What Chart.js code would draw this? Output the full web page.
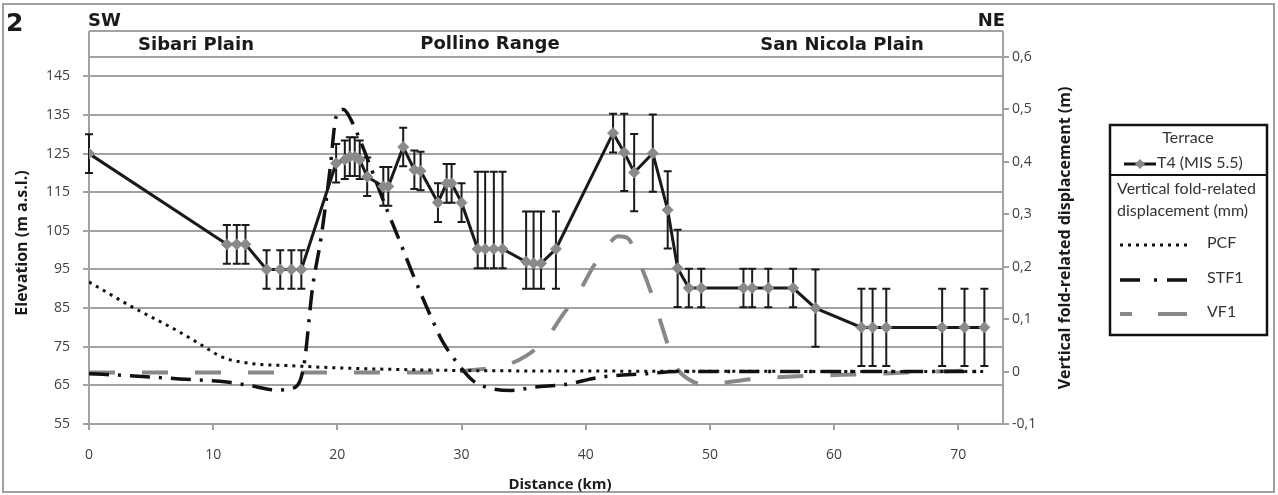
<!DOCTYPE html>
<html>
<head>
<meta charset="utf-8">
<script src="https://cdn.jsdelivr.net/npm/chart.js@4.4.1/dist/chart.umd.min.js"></script>
<style>
  html, body { margin: 0; padding: 0; background: #fff; }
  canvas { display: block; }
</style>
</head>
<body>
<canvas id="profile" width="1278" height="495"></canvas>
<script>
// Terrace T4 (MIS 5.5): distance (km), elevation (m a.s.l.), error bars
const t4Dist = [0, 11.1, 11.9, 12.6, 14.3, 15.4, 16.3, 17.1, 19.9, 20.6, 21.0, 21.4, 21.8, 22.4,
  23.7, 24.1, 25.3, 26.2, 26.7, 28.1, 28.8, 29.2, 30.0, 31.3, 31.9, 32.6, 33.3, 35.2, 35.8, 36.4,
  37.6, 42.2, 43.1, 43.9, 45.4, 46.6, 47.4, 48.3, 49.3, 52.7, 53.4, 54.7, 56.7, 58.5, 62.2, 63.1,
  64.2, 68.7, 70.5, 72.1];
const t4Elev = [125, 101.5, 101.5, 101.5, 95, 95, 95, 95, 122.5, 123.4, 124.2, 124.2, 123.4, 119,
  116.5, 116.5, 126.7, 120.8, 120.5, 112.3, 117.3, 117.3, 112.3, 100.3, 100.3, 100.3, 100.3, 97, 96.6, 96.6,
  100.3, 130.3, 125.3, 120.1, 125.1, 110.4, 95.3, 90.2, 90.2, 90.2, 90.2, 90.2, 90.2, 85, 80, 80,
  80, 80, 80, 80];
const t4ErrUp = [5, 5, 5, 5, 5, 5, 5, 5, 5, 5, 5, 5, 5, 5,
  5, 5, 5, 5, 5, 5, 5, 5, 5, 20, 20, 20, 20, 13, 13.4, 13.4,
  9.7, 5, 10, 10, 10, 10, 10, 5, 5, 5, 5, 5, 5, 10, 10, 10,
  10, 10, 10, 10];
const t4ErrDown = [5, 5, 5, 5, 5, 5, 5, 5, 5, 5, 5, 5, 5, 5,
  5, 5, 5, 5, 5, 5, 5, 5, 5, 5, 5, 5, 5, 7, 6.6, 6.6,
  10.3, 5, 10, 10, 10, 10, 10, 5, 5, 5, 5, 5, 5, 10, 10, 10,
  10, 10, 10, 10];

// Vertical fold-related displacement (m)
const pcfDist = [0, 3.5, 7.1, 8.9, 10.8, 13.2, 16.4, 20, 25, 30, 40, 72];
const pcfDisp = [0.171, 0.123, 0.078, 0.053, 0.027, 0.015, 0.011, 0.007, 0.004, 0.002, 0.001, 0.0];

const stf1Dist = [0, 3.3, 7.3, 11.1, 13, 15.1, 16.6, 17.3, 18.0, 18.7, 19.4, 19.9, 20.5, 21.1, 21.9,
  24.0, 25.0, 26.0, 26.9, 28.0, 28.5, 29.6, 30.9, 32.0, 34.0, 35.8, 38.5, 41.1, 44.9, 47.5, 55, 72];
const stf1Disp = [-0.004, -0.008, -0.014, -0.02, -0.027, -0.035, -0.03, 0.011, 0.16, 0.257, 0.384, 0.486, 0.5, 0.48, 0.437,
  0.308, 0.25, 0.19, 0.139, 0.08, 0.056, 0.018, -0.017, -0.03, -0.036, -0.03, -0.024, -0.011, -0.004, 0, 0, 0];

const vf1Dist = [0, 10, 20, 28, 30.9, 33.4, 35.2, 36.8, 38.2, 39.3, 40.6, 41.7, 42.6, 43.4, 44.2,
  45.2, 46.5, 47.0, 48.7, 49.7, 53.5, 58.1, 62.6, 66.6, 71.2];
const vf1Disp = [-0.002, -0.002, -0.002, -0.002, 0.003, 0.011, 0.03, 0.062, 0.11, 0.145, 0.2, 0.238, 0.258, 0.254, 0.215,
  0.155, 0.059, 0.021, -0.02, -0.024, -0.014, -0.008, -0.005, -0.001, 0.002];

// Axis ticks
const xTicks = [0, 10, 20, 30, 40, 50, 60, 70];
const yTicks = [55, 65, 75, 85, 95, 105, 115, 125, 135, 145];
const y2Ticks = [-0.1, 0, 0.1, 0.2, 0.3, 0.4, 0.5, 0.6];

const regions = ['Sibari Plain', 'Pollino Range', 'San Nicola Plain'];

const GRID = '#a2a2a2';
const TICK_FONT = '"Open Sans", Lato, sans-serif';
const HEAVY_FONT = '"DejaVu Sans", "Liberation Sans", sans-serif';

const toPoints = (xs, ys) => xs.map((x, i) => ({ x: x, y: ys[i] }));

// error bars for the terrace, drawn under the line and markers
const errorBars = {
  id: 'errorBars',
  beforeDatasetsDraw(chart) {
    const { ctx, scales: { x, y } } = chart;
    ctx.save();
    ctx.strokeStyle = '#1a1a1a';
    ctx.lineWidth = 2;
    t4Dist.forEach((d, i) => {
      const px = x.getPixelForValue(d);
      const top = y.getPixelForValue(t4Elev[i] + t4ErrUp[i]);
      const bot = y.getPixelForValue(t4Elev[i] - t4ErrDown[i]);
      ctx.beginPath();
      ctx.moveTo(px, top); ctx.lineTo(px, bot);
      ctx.moveTo(px - 4, top); ctx.lineTo(px + 4, top);
      ctx.moveTo(px - 4, bot); ctx.lineTo(px + 4, bot);
      ctx.stroke();
    });
    ctx.restore();
  }
};

// frame, region band, axis titles and the boxed legend
const decorations = {
  id: 'decorations',
  afterDraw(chart) {
    const { ctx, chartArea: a } = chart;
    ctx.save();

    // outer frame
    ctx.strokeStyle = '#a0a0a0';
    ctx.lineWidth = 2;
    ctx.strokeRect(3, 4, 1271, 488);

    // region band above the plot
    ctx.strokeStyle = GRID;
    ctx.beginPath();
    ctx.moveTo(a.left, 31); ctx.lineTo(a.right, 31);
    ctx.moveTo(a.left, a.top); ctx.lineTo(a.right, a.top);
    ctx.moveTo(a.left, 31); ctx.lineTo(a.left, a.top);
    ctx.moveTo(a.right, 31); ctx.lineTo(a.right, a.top);
    ctx.stroke();

    ctx.fillStyle = '#1a1a1a';
    ctx.textBaseline = 'middle';
    ctx.font = 'bold 18px ' + HEAVY_FONT;
    ctx.textAlign = 'center';
    ctx.fillText(regions[0], 196, 45);
    ctx.fillText(regions[1], 490, 44);
    ctx.fillText(regions[2], 842, 45);

    ctx.textAlign = 'left';
    ctx.fillText('SW', 88, 21);
    ctx.textAlign = 'right';
    ctx.fillText('NE', 1005, 21);
    ctx.font = 'bold 25px ' + HEAVY_FONT;
    ctx.textAlign = 'left';
    ctx.fillText('2', 6, 24);

    // axis titles
    ctx.font = 'bold 15px ' + TICK_FONT;
    ctx.textAlign = 'center';
    ctx.fillText('Distance (km)', 560, 485);
    ctx.font = 'bold 16px ' + TICK_FONT;
    ctx.save();
    ctx.translate(22, 243);
    ctx.rotate(-Math.PI / 2);
    ctx.fillText('Elevation (m a.s.l.)', 0, 0);
    ctx.restore();
    ctx.save();
    ctx.translate(1065, 238);
    ctx.rotate(-Math.PI / 2);
    ctx.fillText('Vertical fold-related displacement (m)', 0, 0);
    ctx.restore();

    // legend box
    ctx.strokeStyle = '#111';
    ctx.lineWidth = 2.5;
    ctx.strokeRect(1110, 125, 157, 210);
    ctx.lineWidth = 2;
    ctx.beginPath();
    ctx.moveTo(1110, 175); ctx.lineTo(1267, 175);
    ctx.stroke();

    ctx.fillStyle = '#333';
    ctx.font = '16px Lato, "Open Sans", sans-serif';
    ctx.textAlign = 'center';
    ctx.fillText('Terrace', 1188, 138);
    ctx.textAlign = 'left';
    ctx.fillText('T4 (MIS 5.5)', 1157, 163);
    ctx.fillText('Vertical fold-related', 1117, 189);
    ctx.fillText('displacement (mm)', 1117, 211);
    ctx.fillText('PCF', 1207, 243);
    ctx.fillText('STF1', 1207, 278);
    ctx.fillText('VF1', 1207, 312);

    // legend samples
    ctx.strokeStyle = '#111';
    ctx.lineWidth = 3;
    ctx.beginPath(); ctx.moveTo(1124, 164); ctx.lineTo(1156, 164); ctx.stroke();
    ctx.fillStyle = '#8a8a8a';
    ctx.beginPath();
    ctx.moveTo(1140, 159); ctx.lineTo(1145, 164); ctx.lineTo(1140, 169); ctx.lineTo(1135, 164);
    ctx.closePath(); ctx.fill();

    ctx.setLineDash([3, 5]);
    ctx.beginPath(); ctx.moveTo(1120, 245); ctx.lineTo(1188, 245); ctx.stroke();
    ctx.lineWidth = 3.5;
    ctx.setLineDash([20, 14, 3, 10]);
    ctx.beginPath(); ctx.moveTo(1120, 280); ctx.lineTo(1188, 280); ctx.stroke();
    ctx.setLineDash([]);
    ctx.strokeStyle = '#888';
    ctx.lineWidth = 4;
    ctx.beginPath();
    ctx.moveTo(1120, 314); ctx.lineTo(1132, 314);
    ctx.moveTo(1158, 314); ctx.lineTo(1187, 314);
    ctx.stroke();

    ctx.restore();
  }
};

const tickFont = { family: TICK_FONT, size: 14 };

new Chart(document.getElementById('profile'), {
  type: 'line',
  data: {
    datasets: [
      {
        label: 'T4 (MIS 5.5)',
        data: toPoints(t4Dist, t4Elev),
        yAxisID: 'y',
        borderColor: '#1a1a1a',
        borderWidth: 3,
        pointStyle: 'rectRot',
        pointRadius: 5.5,
        pointBackgroundColor: '#8a8a8a',
        pointBorderColor: '#8a8a8a',
        pointBorderWidth: 1,
        tension: 0
      },
      {
        label: 'PCF',
        data: toPoints(pcfDist, pcfDisp),
        yAxisID: 'y2',
        borderColor: '#111',
        borderWidth: 3,
        borderDash: [3, 5],
        pointRadius: 0,
        cubicInterpolationMode: 'monotone'
      },
      {
        label: 'STF1',
        data: toPoints(stf1Dist, stf1Disp),
        yAxisID: 'y2',
        borderColor: '#111',
        borderWidth: 3.5,
        borderDash: [20, 9, 3, 9],
        pointRadius: 0,
        cubicInterpolationMode: 'monotone'
      },
      {
        label: 'VF1',
        data: toPoints(vf1Dist, vf1Disp),
        yAxisID: 'y2',
        borderColor: '#888',
        borderWidth: 4,
        borderDash: [26, 27],
        pointRadius: 0,
        cubicInterpolationMode: 'monotone'
      }
    ]
  },
  options: {
    responsive: false,
    animation: false,
    devicePixelRatio: 1,
    layout: { padding: { top: 57, left: 0, right: 0, bottom: 0 } },
    plugins: {
      legend: { display: false },
      tooltip: { enabled: false }
    },
    scales: {
      x: {
        type: 'linear',
        position: 'bottom',
        min: 0,
        max: 73.6,
        afterBuildTicks: s => { s.ticks = xTicks.map(v => ({ value: v })); },
        afterFit: s => { s.height = 71; },
        grid: { drawOnChartArea: false, tickLength: 6, color: GRID, lineWidth: 2 },
        border: { color: GRID, width: 2 },
        ticks: { font: tickFont, color: '#404040', padding: 17, maxRotation: 0 }
      },
      y: {
        position: 'left',
        min: 55,
        max: 150,
        afterBuildTicks: s => { s.ticks = yTicks.map(v => ({ value: v })); },
        afterFit: s => { s.width = 89; },
        grid: { color: GRID, lineWidth: 2, tickLength: 6 },
        border: { color: GRID, width: 2 },
        ticks: { font: tickFont, color: '#404040', padding: 13 }
      },
      y2: {
        position: 'right',
        min: -0.1,
        max: 0.6,
        afterBuildTicks: s => { s.ticks = y2Ticks.map(v => ({ value: v })); },
        afterFit: s => { s.width = 275; },
        grid: { drawOnChartArea: false, color: GRID, lineWidth: 2, tickLength: 6 },
        border: { color: GRID, width: 2 },
        ticks: {
          font: tickFont,
          color: '#404040',
          padding: 3,
          callback: v => String(Math.round(v * 10) / 10).replace('.', ',')
        }
      }
    }
  },
  plugins: [errorBars, decorations]
});
</script>
</body>
</html>
